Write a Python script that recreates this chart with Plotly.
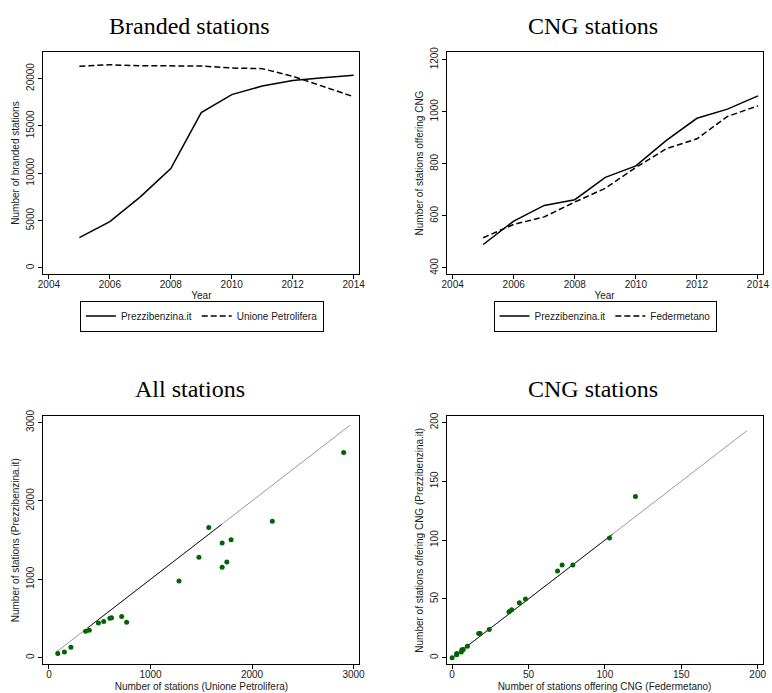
import plotly.graph_objects as go

# ---------------- data ----------------
years = [2005, 2006, 2007, 2008, 2009, 2010, 2011, 2012, 2013, 2014]

branded_prezzi = [3200, 4900, 7500, 10500, 16400, 18300, 19200, 19800, 20070, 20350]
branded_unione = [21300, 21450, 21350, 21350, 21320, 21110, 21040, 20240, 19200, 18080]

cng_prezzi = [490, 580, 640, 662, 748, 792, 890, 975, 1010, 1061]
cng_federmetano = [516, 567, 596, 653, 706, 786, 858, 896, 982, 1023]

all_unione = [87, 152, 216, 361, 397, 487, 539, 600, 616, 716, 765, 1281, 1477,
              1574, 1706, 1706, 1752, 1794, 2200, 2903]
all_prezzi = [55, 72, 135, 337, 349, 442, 463, 505, 509, 526, 454, 980, 1283,
              1662, 1464, 1153, 1220, 1506, 1742, 2617]

cngs_federmetano = [0, 3, 3, 6, 6.4, 7.3, 10, 17.4, 18.3, 24.3, 37.2, 39, 44, 48,
                    69, 72, 79, 103, 120]
cngs_prezzi = [0, 2.5, 3.6, 4.8, 6.7, 7, 9.8, 20.5, 20.5, 24, 39, 40.7, 46.8, 50,
               73.8, 78.8, 78.8, 101.8, 137]

# 45-degree reference lines (value ranges)
diag_all = [60, 2965]
diag_all_dense = [380, 1700]
diag_cng = [0, 193]
diag_cng_dense = [0, 105]

# tick values
year_ticks = [2004, 2006, 2008, 2010, 2012, 2014]
branded_ticks = [0, 5000, 10000, 15000, 20000]
cng_ticks = [400, 600, 800, 1000, 1200]
all_ticks = [0, 1000, 2000, 3000]
cngs_ticks = [0, 50, 100, 150, 200]

titles = ["Branded stations", "CNG stations", "All stations", "CNG stations"]

# ---------------- layout helpers ----------------
W, H = 772, 693


def fx(px):
    return px / W


def fy(py):
    return 1 - py / H


SANS = "Liberation Sans"
SERIF = "Liberation Serif"
TXT = "#1a1a1a"
GREEN = "#006400"

fig = go.Figure()

# Top-left: branded stations
fig.add_trace(go.Scatter(x=years, y=branded_prezzi, mode="lines", name="Prezzibenzina.it",
                         line=dict(color="black", width=1.5), xaxis="x", yaxis="y",
                         legend="legend"))
fig.add_trace(go.Scatter(x=years, y=branded_unione, mode="lines", name="Unione Petrolifera",
                         line=dict(color="black", width=1.5, dash="6px,3px"), xaxis="x",
                         yaxis="y", legend="legend"))

# Top-right: CNG stations over time
fig.add_trace(go.Scatter(x=years, y=cng_prezzi, mode="lines", name="Prezzibenzina.it",
                         line=dict(color="black", width=1.5), xaxis="x2", yaxis="y2",
                         legend="legend2"))
fig.add_trace(go.Scatter(x=years, y=cng_federmetano, mode="lines", name="Federmetano",
                         line=dict(color="black", width=1.5, dash="6px,3px"), xaxis="x2",
                         yaxis="y2", legend="legend2"))

# Bottom-left: all stations scatter
fig.add_trace(go.Scatter(x=diag_all, y=diag_all, mode="lines", showlegend=False,
                         line=dict(color="#9a9a9a", width=1), xaxis="x3", yaxis="y3"))
fig.add_trace(go.Scatter(x=diag_all_dense, y=diag_all_dense, mode="lines", showlegend=False,
                         line=dict(color="#222222", width=1), xaxis="x3", yaxis="y3"))
fig.add_trace(go.Scatter(x=all_unione, y=all_prezzi, mode="markers", showlegend=False,
                         marker=dict(color=GREEN, size=5), xaxis="x3", yaxis="y3"))

# Bottom-right: CNG scatter
fig.add_trace(go.Scatter(x=diag_cng, y=diag_cng, mode="lines", showlegend=False,
                         line=dict(color="#9a9a9a", width=1), xaxis="x4", yaxis="y4"))
fig.add_trace(go.Scatter(x=diag_cng_dense, y=diag_cng_dense, mode="lines", showlegend=False,
                         line=dict(color="#222222", width=1), xaxis="x4", yaxis="y4"))
fig.add_trace(go.Scatter(x=cngs_federmetano, y=cngs_prezzi, mode="markers", showlegend=False,
                         marker=dict(color=GREEN, size=5), xaxis="x4", yaxis="y4"))


def axis(domain, rng, tickvals, title, anchor, is_y=False):
    d = dict(
        domain=domain, range=rng, tickvals=tickvals,
        ticktext=[str(v) for v in tickvals], anchor=anchor,
        showline=True, mirror=True, linecolor="black", linewidth=1,
        ticks="outside", ticklen=4, tickcolor="black", tickwidth=1,
        showgrid=False, zeroline=False, fixedrange=True,
        tickfont=dict(family=SANS, size=10, color=TXT),
        title=dict(text=title, font=dict(family=SANS, size=10, color=TXT), standoff=3),
    )
    if is_y:
        d["tickangle"] = -90
    else:
        d["ticklabelstandoff"] = -3
    return d


top_dom = [fy(270), fy(45.7)]
bot_dom = [fy(665), fy(414)]
left_dom = [fx(38), fx(359)]
right_dom = [fx(447.5), fx(768.5)]

fig.update_layout(
    width=W, height=H,
    margin=dict(l=0, r=0, t=0, b=0),
    paper_bgcolor="white", plot_bgcolor="white",
    xaxis=axis(left_dom, [2003.82, 2014.19], year_ticks, "Year", "y"),
    yaxis=axis(top_dom, [-626, 22781], branded_ticks, "Number of branded stations", "x", True),
    xaxis2=axis(right_dom, [2003.80, 2014.15], year_ticks, "Year", "y2"),
    yaxis2=axis(top_dom, [377, 1229], cng_ticks, "Number of stations offering CNG", "x2", True),
    xaxis3=axis(left_dom, [-55, 3058], all_ticks, "Number of stations (Unione Petrolifera)", "y3"),
    yaxis3=axis(bot_dom, [-84, 3080], all_ticks, "Number of stations (Prezzibenzina.it)", "x3", True),
    xaxis4=axis(right_dom, [-3.65, 203.2], cngs_ticks,
                "Number of stations offering CNG (Federmetano)", "y4"),
    yaxis4=axis(bot_dom, [-5.6, 205.3], cngs_ticks,
                "Number of stations offering CNG (Prezzibenzina.it)", "x4", True),
    legend=dict(orientation="h", x=fx(199), xanchor="center", y=fy(297), yanchor="top",
                bordercolor="black", borderwidth=1, bgcolor="white",
                font=dict(family=SANS, size=10, color=TXT), itemwidth=30),
    legend2=dict(orientation="h", x=fx(608.5), xanchor="center", y=fy(297), yanchor="top",
                 bordercolor="black", borderwidth=1, bgcolor="white",
                 font=dict(family=SANS, size=10, color=TXT), itemwidth=30),
    showlegend=True,
)

title_pos = [(186.5, 4), (596, 4), (187, 371), (596, 371)]
for t, (cx, ty) in zip(titles, title_pos):
    fig.add_annotation(text=t, x=fx(cx), y=fy(ty), xref="paper", yref="paper",
                       xanchor="center", yanchor="top", showarrow=False,
                       font=dict(family=SERIF, size=24, color="black"))

fig.write_html("out.html")
